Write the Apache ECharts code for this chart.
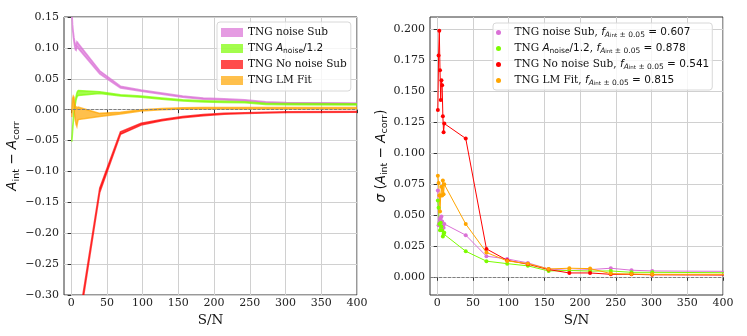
<!DOCTYPE html>
<html>
<head>
<meta charset="utf-8">
<script src="https://cdn.jsdelivr.net/npm/echarts@6/dist/echarts.min.js"></script>
<style>
html, body { margin: 0; padding: 0; background: #fff; }
#chart { width: 747px; height: 336px; }
</style>
</head>
<body>
<div id="chart"></div>
<script>
// S/N sample points (last one lies past the axis and is clipped)
var sn = [1, 2, 3, 4, 5, 6, 7, 8, 9, 10, 40, 69, 98, 127, 156, 185, 214, 243, 272, 301, 500];

// left panel: A_int - A_corr bands (low / high edge)
var subLo  = [0.152, 0.130, 0.118, 0.109, 0.102, 0.097, 0.096, 0.102, 0.101, 0.099, 0.058, 0.035, 0.030, 0.025, 0.020, 0.017, 0.0155, 0.014, 0.011, 0.0095, 0.008];
var subHi  = [0.160, 0.138, 0.126, 0.117, 0.110, 0.105, 0.104, 0.110, 0.109, 0.107, 0.063, 0.038, 0.032, 0.027, 0.022, 0.019, 0.0175, 0.016, 0.013, 0.0115, 0.010];
var anLo   = [-0.052, -0.036, -0.020, -0.008, 0.002, 0.010, 0.016, 0.020, 0.022, 0.023, 0.026, 0.022, 0.020, 0.017, 0.014, 0.0125, 0.0115, 0.011, 0.0085, 0.008, 0.007];
var anHi   = [-0.046, -0.030, -0.014, -0.002, 0.008, 0.016, 0.022, 0.027, 0.030, 0.031, 0.029, 0.024, 0.022, 0.019, 0.016, 0.0145, 0.0135, 0.013, 0.0105, 0.010, 0.009];
var noLo   = [-0.95, -0.85, -0.78, -0.70, -0.62, -0.55, -0.48, -0.43, -0.39, -0.357, -0.134, -0.040, -0.025, -0.018, -0.013, -0.010, -0.0075, -0.0062, -0.0052, -0.0045, -0.0035];
var noHi   = [-0.93, -0.83, -0.76, -0.68, -0.60, -0.53, -0.46, -0.41, -0.37, -0.347, -0.127, -0.036, -0.022, -0.016, -0.011, -0.008, -0.0060, -0.0048, -0.0040, -0.0035, -0.0025];
var lmLo   = [-0.012, 0.005, 0.012, 0.000, -0.010, -0.018, -0.024, -0.027, -0.020, -0.016, -0.011, -0.007, -0.002, 0.000, 0.001, 0.0015, 0.0015, 0.0015, 0.0015, 0.0015, 0.0015];
var lmHi   = [0.000, 0.018, 0.022, 0.020, 0.010, 0.005, 0.002, 0.004, 0.003, 0.004, -0.006, -0.004, 0.000, 0.002, 0.003, 0.0035, 0.0035, 0.0035, 0.0035, 0.0035, 0.0035];

// right panel: sigma(A_int - A_corr)
var sigSub = [0.070, 0.042, 0.044, 0.047, 0.048, 0.049, 0.045, 0.041, 0.040, 0.043, 0.034, 0.017, 0.0148, 0.0116, 0.0067, 0.0055, 0.0062, 0.0073, 0.0057, 0.0051, 0.0045];
var sigAn  = [0.062, 0.056, 0.043, 0.038, 0.044, 0.041, 0.038, 0.033, 0.035, 0.036, 0.021, 0.013, 0.011, 0.0092, 0.0051, 0.0055, 0.0050, 0.0051, 0.0040, 0.0040, 0.0034];
var sigNo  = [0.135, 0.179, 0.199, 0.167, 0.143, 0.159, 0.155, 0.130, 0.117, 0.124, 0.112, 0.0229, 0.0137, 0.0105, 0.0062, 0.0035, 0.0035, 0.0024, 0.0024, 0.0020, 0.0016];
var sigLm  = [0.082, 0.076, 0.066, 0.053, 0.066, 0.073, 0.066, 0.078, 0.067, 0.075, 0.043, 0.020, 0.0132, 0.011, 0.0067, 0.0073, 0.0070, 0.0030, 0.0026, 0.0024, 0.0024];
var fracs  = ['0.607', '0.878', '0.541', '0.815'];

// tick positions and labels
var xTicks   = [0, 50, 100, 150, 200, 250, 300, 350, 400];
var yTicksL  = [-0.30, -0.25, -0.20, -0.15, -0.10, -0.05, 0.00, 0.05, 0.10, 0.15];
var yLabelsL = ['\u22120.30', '\u22120.25', '\u22120.20', '\u22120.15', '\u22120.10', '\u22120.05', '0.00', '0.05', '0.10', '0.15'];
var yTicksR  = [0, 0.025, 0.05, 0.075, 0.1, 0.125, 0.15, 0.175, 0.2];
var yLabelsR = ['0.000', '0.025', '0.050', '0.075', '0.100', '0.125', '0.150', '0.175', '0.200'];

var colors = ['#da70d6', '#7cfc00', '#ff0000', '#ffa500'];
var namesL = ['TNG noise Sub', 'TNG Anoise/1.2', 'TNG No noise Sub', 'TNG LM Fit'];
var namesR = ['TNG noise Sub, f', 'TNG Anoise/1.2, f', 'TNG No noise Sub, f', 'TNG LM Fit, f'];

var serif = 'DejaVu Serif';
var sans = 'DejaVu Sans';

function pickLabel(ticks, labels) {
  return function (v) {
    var n = Number(v);
    for (var i = 0; i < ticks.length; i++) {
      if (Math.abs(ticks[i] - n) < 1e-6) return labels[i];
    }
    return '';
  };
}

function bandSeries(name, lo, hi, color) {
  return {
    name: name,
    type: 'custom',
    xAxisIndex: 0,
    yAxisIndex: 0,
    itemStyle: { color: color, opacity: 0.7 },
    data: sn.map(function (x, i) { return [x, lo[i], hi[i]]; }),
    encode: { x: 0, y: [1, 2] },
    renderItem: function (params, api) {
      if (params.dataIndex !== 0) return null;
      var pts = [];
      for (var i = 0; i < sn.length; i++) pts.push(api.coord([sn[i], hi[i]]));
      for (var j = sn.length - 1; j >= 0; j--) pts.push(api.coord([sn[j], lo[j]]));
      var cs = params.coordSys;
      return {
        type: 'polygon',
        shape: { points: pts },
        clipPath: { type: 'rect', shape: { x: cs.x, y: cs.y, width: cs.width, height: cs.height } },
        style: { fill: color, stroke: color, lineWidth: 1.5, opacity: 0.7 }
      };
    }
  };
}

function lineSeries(name, vals, color) {
  return {
    name: name,
    type: 'line',
    xAxisIndex: 1,
    yAxisIndex: 1,
    data: sn.map(function (x, i) { return [x, vals[i]]; }),
    symbol: 'circle',
    symbolSize: 4,
    lineStyle: { width: 1, color: color },
    itemStyle: { color: color },
    clip: true
  };
}

function zeroLine(idx) {
  return {
    type: 'line', xAxisIndex: idx, yAxisIndex: idx, data: [], z: 5,
    markLine: {
      silent: true, symbol: 'none', label: { show: false },
      lineStyle: { color: '#808080', type: [3, 1.5], width: 1 },
      data: [{ yAxis: 0 }]
    }
  };
}

function xAxisOf(idx) {
  return {
    type: 'value', gridIndex: idx, min: -10, max: 400,
    name: 'S/N', nameLocation: 'middle', nameGap: 14,
    nameTextStyle: { fontFamily: serif, fontSize: 13.5, color: '#111' },
    axisLine: { show: false },
    axisTick: { show: true, length: 3.5, customValues: xTicks, lineStyle: { color: '#333' } },
    axisLabel: { customValues: xTicks, margin: 3, fontFamily: serif, fontSize: 11, color: '#222' },
    splitLine: { show: true, lineStyle: { color: '#d0d0d0', width: 1 } }
  };
}

var richMath = {
  t: { fontFamily: serif, fontSize: 10.5, lineHeight: 13, verticalAlign: 'middle', color: '#111' },
  i: { fontFamily: sans, fontStyle: 'italic', fontSize: 10.5, lineHeight: 13, verticalAlign: 'middle', color: '#111' },
  m: { fontFamily: sans, fontSize: 10.5, lineHeight: 13, verticalAlign: 'middle', color: '#111' },
  s: { fontFamily: sans, fontSize: 7.5, lineHeight: 8, verticalAlign: 'bottom', color: '#111' },
  si: { fontFamily: sans, fontStyle: 'italic', fontSize: 7.5, lineHeight: 8, verticalAlign: 'bottom', color: '#111' },
  ss: { fontFamily: sans, fontSize: 5.5, lineHeight: 4, verticalAlign: 'bottom', color: '#111' }
};

var fPart = '{i|f}{si|A}{ss|int}{s| \u00b1 0.05}';
var legendR = [
  '{t|TNG noise Sub, }' + fPart + '{m| = ' + fracs[0] + '}',
  '{t|TNG }{i|A}{s|noise}{m|/1.2}{t|, }' + fPart + '{m| = ' + fracs[1] + '}',
  '{t|TNG No noise Sub, }' + fPart + '{m| = ' + fracs[2] + '}',
  '{t|TNG LM Fit, }' + fPart + '{m| = ' + fracs[3] + '}'
];
var legendL = [
  '{t|TNG noise Sub}',
  '{t|TNG }{i|A}{s|noise}{m|/1.2}',
  '{t|TNG No noise Sub}',
  '{t|TNG LM Fit}'
];

var nameRich = {
  a: { fontFamily: sans, fontStyle: 'italic', fontSize: 13.5, lineHeight: 17, verticalAlign: 'middle', color: '#111' },
  n: { fontFamily: sans, fontSize: 13.5, lineHeight: 17, verticalAlign: 'middle', color: '#111' },
  b: { fontFamily: sans, fontSize: 9.5, lineHeight: 10, verticalAlign: 'bottom', color: '#111' }
};

var option = {
  animation: false,
  backgroundColor: '#fff',
  grid: [
    { left: 64, top: 17, width: 293, height: 278, show: true, borderColor: '#333', borderWidth: 1, backgroundColor: 'transparent' },
    { left: 430, top: 17, width: 293, height: 278, show: true, borderColor: '#333', borderWidth: 1, backgroundColor: 'transparent' }
  ],
  xAxis: [xAxisOf(0), xAxisOf(1)],
  yAxis: [
    {
      type: 'value', gridIndex: 0, min: -0.30, max: 0.15,
      name: '{a|A}{b|int}{n| \u2212 }{a|A}{b|corr}', nameLocation: 'middle', nameGap: 31,
      nameTextStyle: { rich: nameRich },
      axisLine: { show: false },
      axisTick: { show: true, length: 3.5, customValues: yTicksL, lineStyle: { color: '#333' } },
      axisLabel: {
        customValues: yTicksL, margin: 5, fontFamily: serif, fontSize: 11, color: '#222',
        formatter: pickLabel(yTicksL, yLabelsL)
      },
      splitLine: { show: true, lineStyle: { color: '#d0d0d0', width: 1 } }
    },
    {
      type: 'value', gridIndex: 1, min: -0.0143, max: 0.21,
      name: '{a|\u03c3}{n| (}{a|A}{b|int}{n| \u2212 }{a|A}{b|corr}{n|)}', nameLocation: 'middle', nameGap: 29,
      nameTextStyle: { rich: nameRich },
      axisLine: { show: false },
      axisTick: { show: true, length: 3.5, customValues: yTicksR, lineStyle: { color: '#333' } },
      axisLabel: {
        customValues: yTicksR, margin: 5, fontFamily: serif, fontSize: 11, color: '#222',
        formatter: pickLabel(yTicksR, yLabelsR)
      },
      splitLine: { show: true, lineStyle: { color: '#d0d0d0', width: 1 } }
    }
  ],
  legend: [
    {
      data: namesL, left: 217, top: 22, orient: 'vertical', icon: 'rect',
      itemWidth: 22, itemHeight: 9, itemGap: 3, padding: 4,
      backgroundColor: 'rgba(255,255,255,0.8)', borderColor: '#d8d8d8', borderWidth: 1, borderRadius: 3,
      selectedMode: false,
      textStyle: { rich: richMath, lineHeight: 12 },
      formatter: function (name) { return legendL[namesL.indexOf(name)]; }
    },
    {
      data: namesR, left: 493, top: 23, orient: 'vertical', icon: 'circle',
      itemWidth: 22, itemHeight: 5, itemGap: 3, padding: 3,
      backgroundColor: 'rgba(255,255,255,0.8)', borderColor: '#d8d8d8', borderWidth: 1, borderRadius: 3,
      selectedMode: false,
      textStyle: { rich: richMath, lineHeight: 13 },
      formatter: function (name) { return legendR[namesR.indexOf(name)]; }
    }
  ],
  series: [
    bandSeries(namesL[0], subLo, subHi, colors[0]),
    bandSeries(namesL[1], anLo, anHi, colors[1]),
    bandSeries(namesL[2], noLo, noHi, colors[2]),
    bandSeries(namesL[3], lmLo, lmHi, colors[3]),
    zeroLine(0),
    zeroLine(1),
    lineSeries(namesR[0], sigSub, colors[0]),
    lineSeries(namesR[1], sigAn, colors[1]),
    lineSeries(namesR[2], sigNo, colors[2]),
    lineSeries(namesR[3], sigLm, colors[3])
  ]
};

var myChart = echarts.init(document.getElementById('chart'), null, { renderer: 'canvas' });
myChart.setOption(option);
</script>
</body>
</html>
